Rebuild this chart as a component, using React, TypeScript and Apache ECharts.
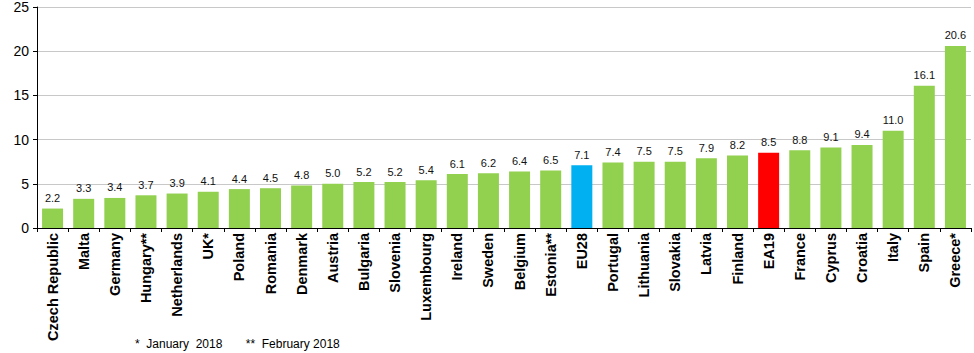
import React, { useEffect, useRef } from "react";
import * as echarts from "echarts";

const categories = [
  "Czech Republic", "Malta", "Germany", "Hungary**", "Netherlands", "UK*", "Poland", "Romania",
  "Denmark", "Austria", "Bulgaria", "Slovenia", "Luxembourg", "Ireland", "Sweden", "Belgium",
  "Estonia**", "EU28", "Portugal", "Lithuania", "Slovakia", "Latvia", "Finland", "EA19",
  "France", "Cyprus", "Croatia", "Italy", "Spain", "Greece*",
];
const values = [
  2.2, 3.3, 3.4, 3.7, 3.9, 4.1, 4.4, 4.5, 4.8, 5.0, 5.2, 5.2, 5.4, 6.1, 6.2, 6.4,
  6.5, 7.1, 7.4, 7.5, 7.5, 7.9, 8.2, 8.5, 8.8, 9.1, 9.4, 11.0, 16.1, 20.6,
];
const highlight: Record<string, string> = { EU28: "#00B0F0", EA19: "#FF0000" };
const baseColor = "#92D050";
const footnote = "*  January  2018       **  February 2018";

export default function App() {
  const ref = useRef<HTMLDivElement>(null);
  useEffect(() => {
    if (!ref.current) return;
    const chart = echarts.init(ref.current, undefined, { renderer: "svg" });
    chart.setOption({
      animation: false,
      backgroundColor: "#ffffff",
      grid: { left: 37, right: 3, top: 7, bottom: 125, containLabel: false },
      xAxis: {
        type: "category",
        data: categories,
        axisLine: { lineStyle: { color: "#000", width: 1 } },
        axisTick: { show: true, length: 4, alignWithLabel: false, lineStyle: { color: "#000" } },
        axisLabel: {
          rotate: 90,
          interval: 0,
          margin: 5,
          color: "#000",
          fontFamily: "Liberation Sans, Arial, sans-serif",
          fontWeight: "bold",
          fontSize: 14.5,
        },
      },
      yAxis: {
        type: "value",
        min: 0,
        max: 25,
        interval: 5,
        axisLine: { show: true, lineStyle: { color: "#000", width: 1 } },
        axisTick: { show: true, length: 4, lineStyle: { color: "#000" } },
        splitLine: { lineStyle: { color: "#c8c8c8", width: 1 } },
        axisLabel: {
          color: "#000",
          fontFamily: "Liberation Sans, Arial, sans-serif",
          fontSize: 14,
          margin: 8,
        },
      },
      series: [
        {
          type: "bar",
          barWidth: 21,
          data: categories.map((c, i) => ({
            value: values[i],
            itemStyle: { color: highlight[c] || baseColor },
          })),
          label: {
            show: true,
            position: "top",
            distance: 5,
            color: "#111",
            fontFamily: "Liberation Sans, Arial, sans-serif",
            fontSize: 11,
            formatter: (p: any) => Number(p.value).toFixed(1),
          },
        },
      ],
      graphic: [
        {
          type: "text",
          left: 135,
          top: 338,
          style: {
            text: footnote,
            fill: "#000",
            font: "12px 'Liberation Sans', Arial, sans-serif",
          },
        },
      ],
    });
    return () => chart.dispose();
  }, []);
  return (
    <div
      ref={ref}
      style={{ position: "fixed", left: 0, top: 0, width: 974, height: 353 }}
    />
  );
}
